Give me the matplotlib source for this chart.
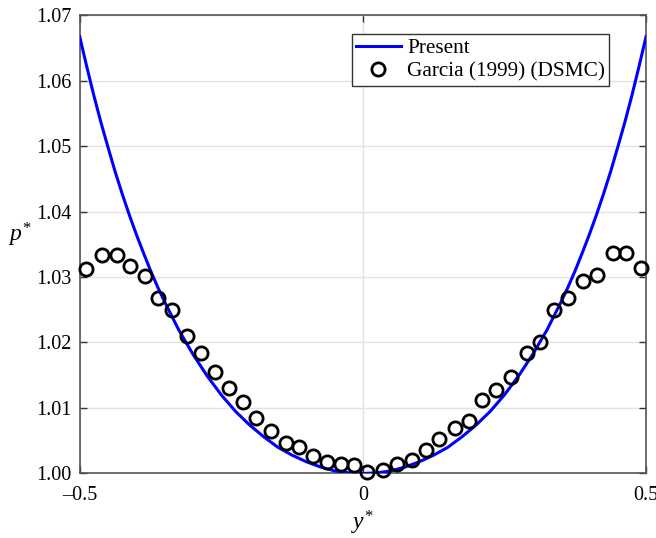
import matplotlib
matplotlib.use("Agg")
from matplotlib import pyplot as plt

plt.rcParams['font.family'] = ['Liberation Serif', 'DejaVu Serif']
plt.rcParams['mathtext.fontset'] = 'custom'
plt.rcParams['mathtext.rm'] = 'Liberation Serif'
plt.rcParams['mathtext.it'] = 'Liberation Serif:italic'

# present solution
y_present = [-0.5000, -0.4875, -0.4750, -0.4625, -0.4500, -0.4375, -0.4250, -0.4125,
             -0.4000, -0.3875, -0.3750, -0.3625, -0.3500, -0.3250, -0.3000, -0.2750,
             -0.2500, -0.2250, -0.2000, -0.1750, -0.1500, -0.1250, -0.1000, -0.0750,
             -0.0500, -0.0250, 0.0000, 0.0250, 0.0500, 0.0750, 0.1000, 0.1250,
             0.1500, 0.1750, 0.2000, 0.2250, 0.2500, 0.2750, 0.3000, 0.3250,
             0.3500, 0.3625, 0.3750, 0.3875, 0.4000, 0.4125, 0.4250, 0.4375,
             0.4500, 0.4625, 0.4750, 0.4875, 0.5000]
p_present = [1.0667, 1.0621, 1.0577, 1.0536, 1.0498, 1.0461, 1.0427, 1.0395,
             1.0365, 1.0337, 1.0310, 1.0285, 1.0262, 1.0219, 1.0182, 1.0149,
             1.0120, 1.0095, 1.0074, 1.0056, 1.0040, 1.0028, 1.0018, 1.0010,
             1.0004, 1.0001, 1.0000, 1.0001, 1.0004, 1.0010, 1.0018, 1.0028,
             1.0040, 1.0056, 1.0074, 1.0095, 1.0120, 1.0149, 1.0182, 1.0219,
             1.0262, 1.0285, 1.0310, 1.0337, 1.0365, 1.0395, 1.0427, 1.0461,
             1.0498, 1.0536, 1.0577, 1.0621, 1.0667]

# Garcia (1999) DSMC
y_dsmc = [-0.489, -0.461, -0.434, -0.411, -0.385, -0.362, -0.337, -0.311, -0.285, -0.261,
          -0.236, -0.212, -0.189, -0.162, -0.136, -0.112, -0.088, -0.064, -0.039, -0.016,
          0.008, 0.036, 0.060, 0.086, 0.112, 0.135, 0.163, 0.187, 0.211, 0.235,
          0.261, 0.289, 0.313, 0.338, 0.362, 0.388, 0.413, 0.441, 0.464, 0.491]
p_dsmc = [1.0312, 1.0334, 1.0334, 1.0317, 1.0301, 1.0268, 1.0250, 1.0210, 1.0184, 1.0155,
          1.0131, 1.0109, 1.0084, 1.0065, 1.0047, 1.0040, 1.0026, 1.0017, 1.0014, 1.0013,
          1.0002, 1.0005, 1.0014, 1.0021, 1.0036, 1.0053, 1.0069, 1.0080, 1.0112, 1.0127,
          1.0147, 1.0184, 1.0201, 1.0250, 1.0268, 1.0294, 1.0303, 1.0336, 1.0336, 1.0314]

xticks = [-0.5, 0, 0.5]
xtick_labels = ['\u20130.5', '0', '0.5']
yticks = [1.00, 1.01, 1.02, 1.03, 1.04, 1.05, 1.06, 1.07]
ytick_labels = ['%.2f' % v for v in yticks]

fig = plt.figure(figsize=(6.56, 5.38), dpi=100)
ax = fig.add_axes([0.1215, 0.1199, 0.8633, 0.8522])

ax.plot(y_present, p_present, color='#0000ff', lw=2.2, label='Present', zorder=3)
ax.plot(y_dsmc, p_dsmc, ls='none', marker='o', ms=9.5, mfc='none', mec='black',
        mew=2.0, label='Garcia (1999) (DSMC)', zorder=4, clip_on=False)

ax.set_xlim(-0.5, 0.5)
ax.set_ylim(1.0, 1.07)
ax.set_xticks(xticks)
ax.set_xticklabels(xtick_labels)
ax.set_yticks(yticks)
ax.set_yticklabels(ytick_labels)

ax.grid(True, color='#e3e3e3', lw=1.0)
ax.set_axisbelow(True)
for s in ax.spines.values():
    s.set_color('#555555')
    s.set_linewidth(1.2)
ax.tick_params(direction='in', length=5, width=1.0, color='#333333',
               top=True, right=True, labelsize=14.5)
ax.tick_params(axis='x', pad=9)
ax.tick_params(axis='y', pad=6)

ax.set_xlabel('$y^{*}$', fontsize=17, labelpad=3)
ax.set_ylabel('$p^{*}$', fontsize=17, rotation=0, ha='center', va='center')
ax.yaxis.set_label_coords(-0.105, 0.52)

leg = ax.legend(loc='upper right', bbox_to_anchor=(0.9347, 0.958), fontsize=15.3,
                frameon=True, fancybox=False, framealpha=1, edgecolor='#333333',
                handlelength=2.1, handletextpad=0.3, borderpad=0.2,
                labelspacing=0.15, borderaxespad=0)
leg.get_frame().set_linewidth(1.0)

plt.savefig('out.png', dpi=100)
